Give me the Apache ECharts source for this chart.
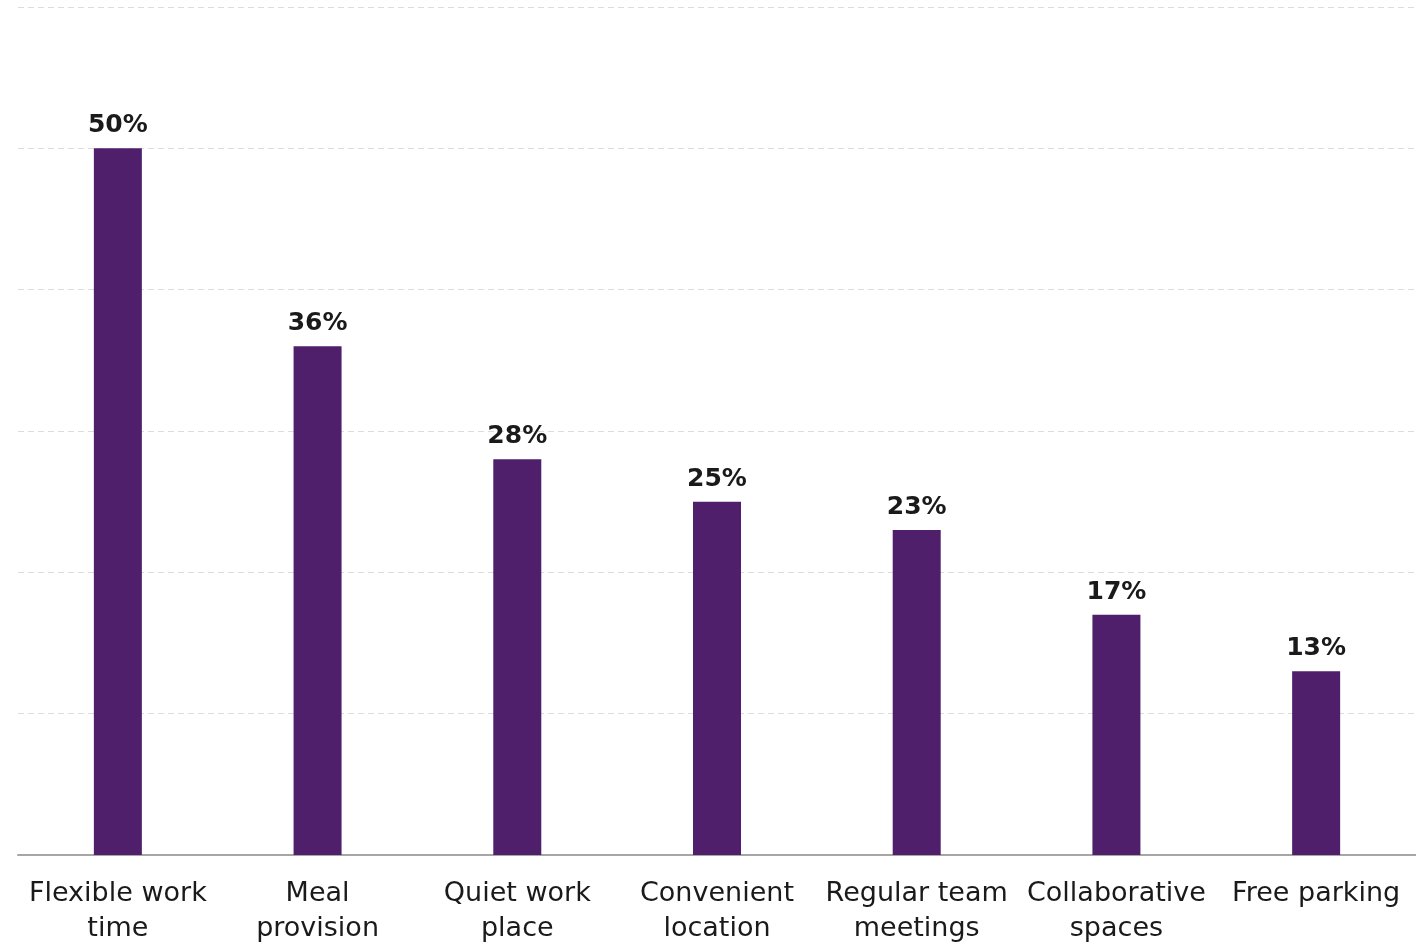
<!DOCTYPE html>
<html lang="en">
<head>
    <meta charset="UTF-8">
    <title>Workplace perks</title>
    <script src="https://cdn.jsdelivr.net/npm/echarts@6/dist/echarts.min.js"></script>
</head>
<body style="margin: 0; background: #fff">
<div id="main" style="width: 1416px; height: 946px"></div>
<script>
    // data
    const categories = ['Flexible work\ntime', 'Meal\nprovision', 'Quiet work\nplace', 'Convenient\nlocation',
        'Regular team\nmeetings', 'Collaborative\nspaces', 'Free parking'];
    const shares = [50, 36, 28, 25, 23, 17, 13];

    const myChart = echarts.init(document.getElementById('main'));
    const option = {
        animation: false,
        grid: {left: 18, right: 0, top: 7, bottom: 88},
        xAxis: {
            type: 'category',
            data: categories,
            axisTick: {show: false},
            axisLine: {lineStyle: {color: '#a6a6a6', width: 2}},
            axisLabel: {
                interval: 0,
                margin: 21,
                fontFamily: 'DejaVu Sans',
                fontSize: 27,
                lineHeight: 35,
                color: '#1a1a1a'
            }
        },
        yAxis: {
            type: 'value',
            min: 0,
            max: 60,
            interval: 10,
            axisLabel: {show: false},
            axisLine: {show: false},
            splitLine: {lineStyle: {color: '#dcdcdc', type: [6, 4], width: 1}}
        },
        series: [{
            type: 'bar',
            data: shares,
            barWidth: 48,
            itemStyle: {color: '#4f1f6b'},
            label: {
                show: true,
                position: 'top',
                distance: 10,
                formatter: '{c}%',
                fontFamily: 'DejaVu Sans',
                fontWeight: 'bold',
                fontSize: 25,
                color: '#1a1a1a'
            }
        }]
    };
    myChart.setOption(option);
</script>
</body>
</html>
